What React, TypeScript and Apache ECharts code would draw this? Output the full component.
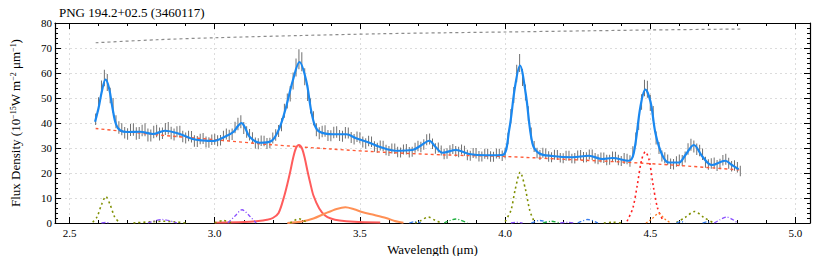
import React, { useEffect, useRef } from "react";
import * as echarts from "echarts";

const chartTitle = "PNG 194.2+02.5 (3460117)";
const xName = "Wavelength (μm)";
const yNameRich = "Flux Density (10{sup|−15}W m{sup|−2} μm{sup|−1})";

// observed spectrum (even grid)
const obsWave = [
  2.59, 2.61, 2.63, 2.65, 2.67, 2.69, 2.71, 2.73, 2.75, 2.77, 2.79, 2.81, 2.83, 2.85, 2.87, 2.89, 2.91, 2.93, 2.95, 2.97,
  2.99, 3.01, 3.03, 3.05, 3.07, 3.09, 3.11, 3.13, 3.15, 3.17, 3.19, 3.21, 3.23, 3.25, 3.27, 3.29, 3.31, 3.33, 3.35, 3.37,
  3.39, 3.41, 3.43, 3.45, 3.47, 3.49, 3.51, 3.53, 3.55, 3.57, 3.59, 3.61, 3.63, 3.65, 3.67, 3.69, 3.71, 3.73, 3.75, 3.77,
  3.79, 3.81, 3.83, 3.85, 3.87, 3.89, 3.91, 3.93, 3.95, 3.97, 3.99, 4.01, 4.03, 4.05, 4.07, 4.09, 4.11, 4.13, 4.15, 4.17,
  4.19, 4.21, 4.23, 4.25, 4.27, 4.29, 4.31, 4.33, 4.35, 4.37, 4.39, 4.41, 4.43, 4.45, 4.47, 4.49, 4.51, 4.53, 4.55, 4.57,
  4.59, 4.61, 4.63, 4.65, 4.67, 4.69, 4.71, 4.73, 4.75, 4.77, 4.79, 4.81,
];
const obsFlux = [
  41.5, 54.0, 56.2, 47.0, 38.2, 36.1, 37.2, 35.8, 37.0, 35.2, 36.4, 35.6, 37.6, 36.0, 36.5, 34.6, 34.8, 32.8, 33.6, 32.4,
  33.3, 32.9, 34.8, 35.0, 38.2, 40.5, 36.4, 34.1, 31.7, 32.8, 32.0, 35.2, 39.3, 48.8, 56.8, 65.5, 58.5, 46.8, 37.3, 36.6,
  35.0, 36.2, 35.0, 36.1, 34.2, 34.5, 32.4, 32.8, 30.6, 31.0, 29.2, 29.8, 28.4, 29.4, 28.3, 30.1, 30.4, 33.3, 31.7, 30.2,
  27.6, 29.1, 28.7, 29.4, 27.2, 28.0, 26.7, 27.7, 26.6, 27.8, 26.9, 33.8, 51.2, 64.0, 52.2, 35.8, 28.0, 28.1, 26.6, 27.3,
  26.1, 26.9, 25.8, 27.0, 26.3, 27.4, 25.9, 26.2, 25.2, 26.6, 25.2, 25.8, 24.8, 33.6, 48.4, 53.5, 43.8, 30.0, 26.1, 23.7,
  24.6, 25.0, 29.6, 30.6, 29.0, 24.3, 23.8, 23.0, 25.1, 23.9, 23.0, 20.8,
];
const obsErr = [
  2.3, 3.0, 3.4, 3.0, 2.5, 2.3, 2.4, 2.5, 2.3, 2.6, 2.5, 2.6, 2.4, 2.5, 2.2, 2.3, 2.1, 2.3, 2.1, 2.2,
  2.1, 2.2, 2.1, 2.3, 2.3, 2.6, 2.3, 2.2, 2.2, 2.1, 2.1, 2.3, 2.6, 3.0, 3.4, 4.0, 3.4, 3.0, 2.6, 2.3,
  2.2, 2.3, 2.2, 2.3, 2.2, 2.1, 2.2, 2.1, 2.1, 2.0, 2.1, 2.0, 2.1, 2.0, 2.1, 2.0, 2.1, 2.2, 2.1, 2.0,
  2.1, 2.0, 2.1, 2.0, 2.1, 2.0, 2.1, 2.0, 2.1, 2.0, 2.1, 2.3, 3.2, 3.6, 3.2, 2.4, 2.1, 2.0, 2.1, 2.0,
  1.9, 2.0, 1.9, 2.0, 2.1, 2.0, 2.1, 2.0, 2.1, 2.0, 2.1, 2.2, 2.3, 2.6, 3.1, 3.4, 3.0, 2.4, 2.2, 2.1,
  2.1, 2.2, 2.3, 2.4, 2.3, 2.2, 2.1, 2.2, 2.1, 2.2, 2.1, 2.1,
];
// observed spectrum (odd grid)
const obsWave2 = [
  2.6, 2.62, 2.64, 2.66, 2.68, 2.7, 2.72, 2.74, 2.76, 2.78, 2.8, 2.82, 2.84, 2.86, 2.88, 2.9, 2.92, 2.94, 2.96, 2.98,
  3.0, 3.02, 3.04, 3.06, 3.08, 3.1, 3.12, 3.14, 3.16, 3.18, 3.2, 3.22, 3.24, 3.26, 3.28, 3.3, 3.32, 3.34, 3.36, 3.38,
  3.4, 3.42, 3.44, 3.46, 3.48, 3.5, 3.52, 3.54, 3.56, 3.58, 3.6, 3.62, 3.64, 3.66, 3.68, 3.7, 3.72, 3.74, 3.76, 3.78,
  3.8, 3.82, 3.84, 3.86, 3.88, 3.9, 3.92, 3.94, 3.96, 3.98, 4.0, 4.02, 4.04, 4.06, 4.08, 4.1, 4.12, 4.14, 4.16, 4.18,
  4.2, 4.22, 4.24, 4.26, 4.28, 4.3, 4.32, 4.34, 4.36, 4.38, 4.4, 4.42, 4.44, 4.46, 4.48, 4.5, 4.52, 4.54, 4.56, 4.58,
  4.6, 4.62, 4.64, 4.66, 4.68, 4.7, 4.72, 4.74, 4.76, 4.78, 4.8,
];
const obsFlux2 = [
  47.5, 58.0, 51.0, 40.5, 37.5, 35.6, 37.4, 36.0, 37.3, 35.0, 36.8, 35.9, 37.9, 35.4, 36.6, 34.0, 34.5, 32.6, 33.8, 32.2,
  33.5, 33.1, 35.6, 35.5, 39.6, 38.0, 35.3, 32.0, 32.9, 31.8, 34.0, 36.8, 44.9, 51.7, 62.2, 64.5, 52.0, 41.9, 35.9, 36.8,
  34.9, 36.4, 34.7, 36.0, 33.5, 34.1, 31.8, 32.5, 30.1, 30.8, 28.8, 29.7, 28.2, 29.5, 28.5, 30.8, 31.4, 33.6, 29.8, 29.0,
  27.8, 29.6, 28.4, 28.9, 26.9, 27.9, 26.6, 27.6, 26.5, 27.7, 28.0, 42.8, 59.8, 58.2, 43.8, 30.6, 27.2, 27.7, 26.3, 27.2,
  25.9, 26.9, 25.9, 27.2, 26.3, 27.3, 25.5, 26.1, 25.3, 26.4, 24.8, 25.6, 28.5, 40.0, 54.0, 48.0, 34.0, 26.8, 25.3, 23.5,
  25.2, 26.4, 31.3, 29.5, 27.5, 23.4, 24.0, 23.6, 25.5, 22.7, 22.3,
];
const obsErr2 = [
  2.8, 3.3, 3.1, 2.6, 2.4, 2.3, 2.5, 2.4, 2.6, 2.4, 2.5, 2.3, 2.5, 2.4, 2.3, 2.2, 2.3, 2.2, 2.2, 2.1,
  2.2, 2.1, 2.2, 2.3, 2.5, 2.4, 2.3, 2.2, 2.1, 2.2, 2.2, 2.4, 2.8, 3.1, 3.6, 3.8, 3.2, 2.8, 2.4, 2.3,
  2.2, 2.3, 2.2, 2.2, 2.1, 2.2, 2.1, 2.1, 2.0, 2.1, 2.0, 2.1, 2.0, 2.1, 2.0, 2.1, 2.1, 2.2, 2.1, 2.0,
  2.1, 2.0, 2.1, 2.0, 2.0, 2.1, 2.0, 2.1, 2.0, 2.0, 2.1, 2.8, 3.5, 3.4, 2.9, 2.2, 2.0, 2.1, 2.0, 2.0,
  2.0, 2.0, 2.1, 2.0, 2.0, 2.1, 2.0, 2.1, 2.0, 2.1, 2.0, 2.1, 2.2, 2.8, 3.3, 3.2, 2.6, 2.2, 2.1, 2.1,
  2.2, 2.2, 2.4, 2.3, 2.3, 2.1, 2.2, 2.1, 2.2, 2.1, 2.1,
];

// total model fit
const fitWave = [
  2.588, 2.6, 2.612, 2.624, 2.636, 2.648, 2.66, 2.675, 2.7, 2.742, 2.788, 2.828, 2.88, 2.924, 2.96, 2.993, 3.04, 3.065,
  3.08, 3.092, 3.105, 3.12, 3.155, 3.195, 3.223, 3.246, 3.269, 3.292, 3.315, 3.332, 3.345, 3.361, 3.407, 3.453, 3.487,
  3.533, 3.567, 3.624, 3.681, 3.71, 3.739, 3.76, 3.785, 3.831, 3.876, 3.934, 3.991, 4.014, 4.034, 4.051, 4.071, 4.094,
  4.117, 4.163, 4.231, 4.289, 4.334, 4.369, 4.426, 4.443, 4.466, 4.483, 4.501, 4.518, 4.541, 4.564, 4.598, 4.621, 4.65,
  4.678, 4.712, 4.758, 4.781, 4.804,
];
const fitFlux = [
  40.5, 46, 53, 57.4, 54, 46, 39.5, 37, 36.4, 36.5, 35.6, 36.9, 35.6, 33.6, 33.0, 32.8, 34.8, 36.5,
  38.8, 40, 38, 34.5, 32.1, 32.8, 38, 46.5, 57, 64.4, 57, 45, 39, 36.5, 35.5, 35.5, 33.9,
  32.1, 30.5, 28.9, 29.2, 31, 32.9, 30.5, 28.1, 29.2, 27.6, 27.1, 27.2, 37.2, 54.4, 63, 51.8, 31.9,
  27.9, 26.8, 26.3, 26.9, 25.6, 26, 24.9, 27.9, 46.5, 53.4, 48.4, 35.8, 27.2, 24.2, 24.2, 27.2, 31.2,
  26.8, 23.2, 24.9, 23.2, 21.5,
];

// continuum
const contWave = [2.59, 2.8, 3.0, 3.2, 3.4, 3.6, 3.8, 4.0, 4.2, 4.4, 4.6, 4.81];
const contFlux = [37.8, 35.3, 33.3, 31.3, 29.6, 28.2, 27.2, 26.6, 25.5, 24.4, 23.0, 21.2];

// upper reference curve
const refWave = [2.59, 2.8, 3.0, 3.3, 3.57, 3.8, 4.0, 4.3, 4.5, 4.81];
const refFlux = [72.1, 73.3, 74.1, 75.0, 75.7, 76.1, 76.4, 76.9, 77.2, 77.6];

// fitted components
const pah33 = [
  [3.0, 0.15], [3.1, 0.4], [3.15, 0.8], [3.18, 1.3], [3.2, 2.0], [3.22, 4.0], [3.24, 11], [3.25, 15.5], [3.26, 20.5],
  [3.27, 26], [3.28, 30], [3.29, 31.2], [3.3, 30], [3.31, 26], [3.32, 20.5], [3.33, 15.5], [3.34, 11], [3.36, 5.8],
  [3.38, 3.0], [3.4, 1.8], [3.43, 1.0], [3.48, 0.5], [3.57, 0.2],
];
const pah34 = [
  [3.25, 0], [3.3, 0.6], [3.34, 1.8], [3.38, 3.8], [3.42, 5.6], [3.45, 6.3], [3.48, 5.5], [3.51, 4.3], [3.55, 3.2],
  [3.59, 2.0], [3.62, 0.8], [3.65, 0.1],
];
const oliveLines = [
  [[2.58, 0.3], [2.595, 2.5], [2.61, 7.3], [2.625, 10.6], [2.64, 7.3], [2.655, 2.5], [2.67, 0.3]],
  [[2.72, 0], [2.78, 0.5], [2.82, 0.7], [2.86, 0.5], [2.9, 0]],
  [[3.0, 0], [3.03, 1.0], [3.06, 0]],
  [[3.26, 0], [3.29, 1.7], [3.32, 0]],
  [[3.69, 0], [3.71, 1.0], [3.735, 2.4], [3.76, 1.0], [3.78, 0]],
  [[4.0, 0.6], [4.02, 5], [4.035, 13.5], [4.052, 20.3], [4.07, 13.5], [4.085, 5], [4.1, 0.6]],
  [[4.34, 0], [4.37, 0.3], [4.4, 0]],
  [[4.59, 0.2], [4.62, 2.2], [4.653, 4.6], [4.685, 2.2], [4.715, 0.2]],
];
const redDotted = [
  [4.42, 0.7], [4.44, 6], [4.455, 15], [4.47, 25.2], [4.483, 28.5], [4.496, 25.2], [4.51, 15], [4.525, 6], [4.545, 0.7],
];
const orangeDotted = [[4.485, 0], [4.505, 1.6], [4.529, 3.8], [4.55, 1.6], [4.57, 0]];
const blueLines = [
  [[3.67, 0], [3.69, 0.5], [3.71, 0]],
  [[4.09, 0], [4.12, 1.0], [4.15, 0]],
  [[4.25, 0], [4.285, 1.4], [4.32, 0]],
  [[4.59, 0], [4.605, 0.6], [4.62, 0]],
  [[4.68, 0], [4.695, 0.5], [4.71, 0]],
];
const purpleLines = [
  [[2.61, 0], [2.625, 0.2], [2.64, 0]],
  [[2.77, 0], [2.82, 1.4], [2.87, 0]],
  [[3.045, 0], [3.07, 2.8], [3.094, 5.3], [3.12, 2.8], [3.143, 0]],
  [[4.02, 0], [4.04, 0.3], [4.06, 0]],
  [[4.19, 0], [4.215, 0.3], [4.24, 0]],
  [[4.72, 0], [4.74, 1.3], [4.762, 2.4], [4.785, 1.3], [4.8, 0]],
];
const greenLines = [
  [[3.79, 0], [3.83, 1.6], [3.87, 0]],
  [[4.13, 0], [4.16, 0.7], [4.19, 0]],
];

const FONT = "'Liberation Serif', 'DejaVu Serif', serif";

function zip(a: number[], b: number[]) {
  return a.map((v, i) => [v, b[i]]);
}

function lineSeries(data: number[][], color: string, width: number, type: any, smooth = 0.3, z = 3) {
  return {
    type: "line",
    data,
    smooth,
    showSymbol: false,
    symbol: "none",
    silent: true,
    z,
    lineStyle: { color, width, type },
  };
}

function errorBars(w: number[], f: number[], e: number[]) {
  return {
    type: "custom",
    silent: true,
    z: 3,
    renderItem: (_p: any, api: any) => {
      const x = api.value(0);
      const p1 = api.coord([x, api.value(1)]);
      const p2 = api.coord([x, api.value(2)]);
      return {
        type: "line",
        shape: { x1: p1[0], y1: p1[1], x2: p2[0], y2: p2[1] },
        style: { stroke: "#707070", lineWidth: 1 },
      };
    },
    encode: { x: 0, y: [1, 2] },
    data: w.map((x, i) => [x, f[i] - e[i], f[i] + e[i]]),
  };
}

export default function App() {
  const ref = useRef<HTMLDivElement>(null);
  useEffect(() => {
    if (!ref.current) return;
    const chart = echarts.init(ref.current, null, { renderer: "svg" });
    const axisCommon = {
      axisLine: { show: true, onZero: false, lineStyle: { color: "#000", width: 1.2 } },
      axisTick: { show: true, inside: true, length: 6, lineStyle: { color: "#000", width: 1 } },
      minorTick: { show: true, splitNumber: 5, length: 3, lineStyle: { color: "#000", width: 1 } },
    };
    const xLabelFmt = (v: number) => {
      const r = Math.round(v * 2) / 2;
      return Math.abs(r - v) < 1e-6 ? r.toFixed(1) : "";
    };
    const series: any[] = [];
    series.push(lineSeries(zip(refWave, refFlux), "#8c8c8c", 1.2, [3, 3], 0.3, 2));
    series.push(errorBars(obsWave, obsFlux, obsErr));
    series.push(errorBars(obsWave2, obsFlux2, obsErr2));
    series.push(lineSeries(zip(contWave, contFlux), "#ff5a36", 1.4, [3, 3], 0.3, 4));
    series.push(lineSeries(pah33, "#ff5c5c", 2, "solid", 0.3, 4));
    series.push(lineSeries(pah34, "#ff9055", 2, "solid", 0.3, 4));
    oliveLines.forEach((d) => series.push(lineSeries(d, "#7f8f00", 1.6, [2, 3], 0.3, 4)));
    series.push(lineSeries(redDotted, "#ff2020", 1.6, [2, 3], 0.3, 4));
    series.push(lineSeries(orangeDotted, "#ff7a20", 1.3, [2, 2], 0.3, 4));
    blueLines.forEach((d) => series.push(lineSeries(d, "#3a7ff0", 1.3, [4, 2, 1, 2], 0.3, 4)));
    purpleLines.forEach((d) => series.push(lineSeries(d, "#8a50ff", 1.3, [4, 2, 1, 2], 0.3, 4)));
    greenLines.forEach((d) => series.push(lineSeries(d, "#20b040", 1.3, [4, 2, 1, 2], 0.3, 4)));
    series.push(lineSeries(zip(fitWave, fitFlux), "#1a88f0", 2.2, "solid", 0.35, 6));

    chart.setOption({
      animation: false,
      backgroundColor: "#fff",
      textStyle: { fontFamily: FONT },
      title: {
        text: chartTitle,
        left: 54,
        top: 1,
        textStyle: { fontFamily: FONT, fontSize: 13, fontWeight: "normal", color: "#000" },
      },
      grid: { left: 55, right: 20, top: 23, bottom: 33, containLabel: false, outerBoundsMode: "none" },
      xAxis: [
        {
          type: "value",
          position: "bottom",
          min: 2.45,
          max: 5.05,
          name: xName,
          nameLocation: "middle",
          nameGap: 16,
          nameTextStyle: { fontFamily: FONT, fontSize: 13, color: "#000" },
          ...axisCommon,
          axisLabel: {
            show: true,
            fontFamily: FONT,
            fontSize: 11,
            color: "#000",
            margin: 4,
            showMinLabel: false,
            showMaxLabel: false,
            formatter: xLabelFmt,
          },
          splitLine: { show: true, lineStyle: { color: "#dcdcdc", type: [2, 3], width: 1 } },
        },
        {
          type: "value",
          position: "top",
          min: 2.45,
          max: 5.05,
          ...axisCommon,
          axisLabel: { show: false },
          splitLine: { show: false },
        },
      ],
      yAxis: [
        {
          type: "value",
          position: "left",
          min: 0,
          max: 80,
          interval: 10,
          name: yNameRich,
          nameLocation: "middle",
          nameGap: 33,
          nameTextStyle: {
            fontFamily: FONT,
            fontSize: 13,
            color: "#000",
            rich: {
              sup: { fontFamily: FONT, fontSize: 8, color: "#000", verticalAlign: "top", lineHeight: 13 },
            },
          },
          ...axisCommon,
          axisLabel: { show: true, fontFamily: FONT, fontSize: 11, color: "#000", margin: 3 },
          splitLine: { show: true, lineStyle: { color: "#dcdcdc", type: [2, 3], width: 1 } },
        },
        {
          type: "value",
          position: "right",
          min: 0,
          max: 80,
          interval: 10,
          ...axisCommon,
          axisLabel: { show: false },
          splitLine: { show: false },
        },
      ],
      series,
    });
    return () => chart.dispose();
  }, []);
  return <div ref={ref} style={{ width: 830, height: 256, position: "absolute", left: 0, top: 0 }} />;
}
